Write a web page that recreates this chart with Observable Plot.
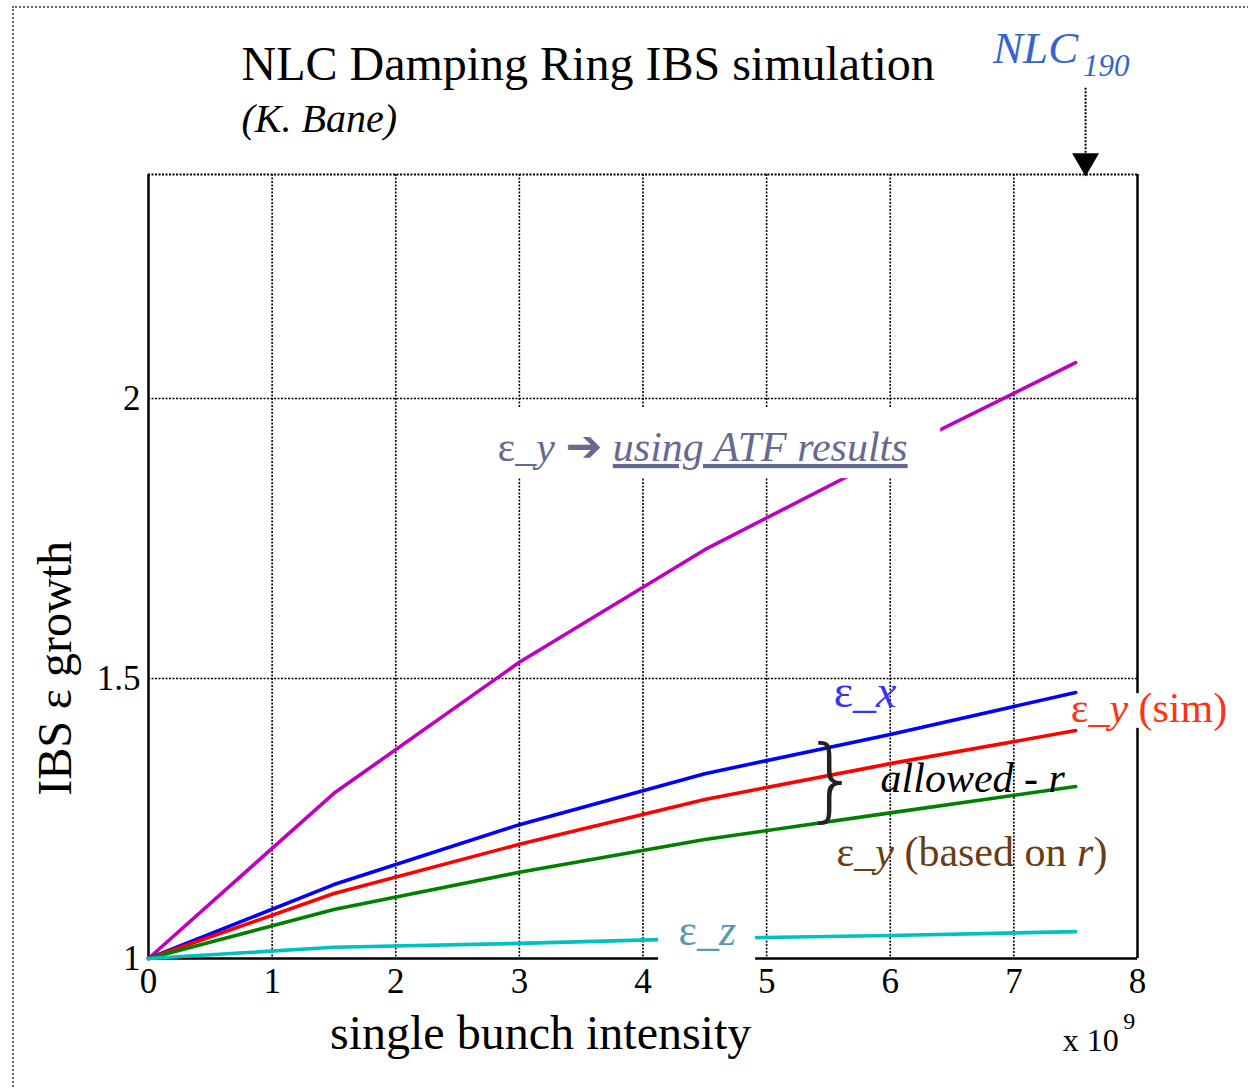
<!DOCTYPE html>
<html>
<head>
<meta charset="utf-8">
<script src="https://cdn.jsdelivr.net/npm/d3@7"></script>
<script src="https://cdn.jsdelivr.net/npm/@observablehq/plot@0.6"></script>
<style>
  html, body { margin: 0; padding: 0; background: #fff; overflow: hidden; }
  #wrap { position: relative; width: 1248px; height: 1088px; }
  #border { position: absolute; left: 12px; top: 6px; width: 1300px; height: 1200px;
            border: 2px dotted #666; box-sizing: border-box; pointer-events: none; }
  #chart { position: absolute; left: 0; top: 0; }
</style>
</head>
<body>
<div id="wrap"><div id="border"></div><div id="chart"></div></div>
<script>
// ---- data ----
const intensity = [0, 1.5, 3, 4.5, 6, 7.5];            // x 10^9
const epsYATF   = [1, 1.295, 1.529, 1.73, 1.90, 2.064];  // magenta
const epsX      = [1, 1.132, 1.239, 1.33, 1.40, 1.475];  // blue
const epsYSim   = [1, 1.116, 1.204, 1.284, 1.348, 1.407]; // red
const epsYr     = [1, 1.0875, 1.154, 1.2125, 1.26, 1.307]; // green
const epsZ      = [1, 1.02, 1.027, 1.036, 1.041, 1.048]; // cyan

const xTicks = [0, 1, 2, 3, 4, 5, 6, 7, 8];
const yTicks = [1, 1.5, 2];
const xGrid = [1, 2, 3, 4, 5, 6, 7];
const yGrid = [1.5, 2];

const seriesColors = ["#c000c0", "#0000ff", "#ff0000", "#008000", "#00c0c0"];
const seriesValues = [epsYATF, epsX, epsYSim, epsYr, epsZ];

// annotation labels
const labelTexts = ["ε_|i:y| |b:➔| |u:using ATF results", "ε_|i:x|", "ε_|i:y| (sim)", "allowed - r", "ε_|i:y| (based on |i:r|)", "ε_|i:z|"];
const labelX     = [2.824, 5.542, 7.460, 5.922, 5.566, 4.288];
const labelY     = [1.9125, 1.475, 1.446, 1.321, 1.189, 1.05];
const labelColor = ["#666a92", "#3434f4", "#ff3311", "#000000", "#6b3d14", "#5a9aae"];
const labelSize  = [42, 46, 42, 42, 42, 44];
const labelStyle = ["normal", "normal", "normal", "italic", "normal", "normal"];

// white masks behind labels
const maskX1 = [2.686, 4.126, 7.524];
const maskX2 = [6.408, 4.911, 8.8];
const maskY1 = [1.857, 0.99, 1.411];
const maskY2 = [1.984, 1.095, 1.473];

const lineData = (vals) => intensity.map((x, i) => ({x, y: vals[i]}));

const marks = [
  // grid
  Plot.ruleX(xGrid, {stroke: "#000", strokeWidth: 1.6, strokeDasharray: "2,1.5"}),
  Plot.ruleY(yGrid, {stroke: "#000", strokeWidth: 1.6, strokeDasharray: "2,1.5"}),
  Plot.ruleY([2.4], {stroke: "#000", strokeWidth: 2, strokeDasharray: "2,1.5"}),
  // frame
  Plot.ruleX([0, 8], {stroke: "#000", strokeWidth: 2.5}),
  Plot.ruleY([1], {stroke: "#000", strokeWidth: 2.5}),
  // series
  ...seriesValues.map((vals, i) => Plot.line(lineData(vals), {x: "x", y: "y", stroke: seriesColors[i], strokeWidth: 3.6})),
  // masks
  Plot.rect(maskX1.map((d, i) => i), {x1: i => maskX1[i], x2: i => maskX2[i], y1: i => maskY1[i], y2: i => maskY2[i], fill: "#fff"}),
  // axes
  Plot.axisX(xTicks, {tickSize: 0, tickPadding: 10, fontSize: 35, label: null, tickFormat: d => String(d)}),
  Plot.axisY(yTicks, {tickSize: 0, tickPadding: 8, fontSize: 35, label: null, tickFormat: d => String(d)}),
  // labels
  ...labelTexts.map((t, i) => Plot.text([t], {x: labelX[i], y: labelY[i], text: d => d, textAnchor: "start",
      fill: labelColor[i], fontSize: labelSize[i], fontStyle: labelStyle[i]})),
  // brace
  Plot.text(["}"], {x: 5.525, y: 1.316, text: d => d, fontSize: 90, fontFamily: "DejaVu Sans", fontWeight: 200, fill: "#222"}),
  // title
  Plot.text(["NLC Damping Ring IBS simulation"], {x: 0.752, y: 2.596, text: d => d, textAnchor: "start", fontSize: 48}),
  Plot.text(["(K. Bane)"], {x: 0.752, y: 2.498, text: d => d, textAnchor: "start", fontSize: 40, fontStyle: "italic"}),
  // NLC190
  Plot.text(["NLC"], {x: 6.832, y: 2.625, text: d => d, textAnchor: "start", fontSize: 45, fontStyle: "italic", fill: "#3366cc"}),
  Plot.text(["190"], {x: 7.56, y: 2.594, text: d => d, textAnchor: "start", fontSize: 31, fontStyle: "italic", fill: "#3366cc"}),
  Plot.ruleX([7.58], {y1: 2.554, y2: 2.43, stroke: "#000", strokeWidth: 2, strokeDasharray: "2,1.5"}),
  Plot.dot([7.58], {x: d => d, y: 2.424, symbol: "triangle", rotate: 180, r: 10, fill: "#000", stroke: "none"}),
  // axis titles
  Plot.text(["single bunch intensity"], {x: 3.172, y: 0.866, text: d => d, fontSize: 48}),
  Plot.text(["IBS ε growth"], {x: -0.752, y: 1.518, text: d => d, fontSize: 48, rotate: -90}),
  Plot.text(["x 10"], {x: 7.395, y: 0.853, text: d => d, textAnchor: "start", fontSize: 32}),
  Plot.text(["9"], {x: 7.885, y: 0.888, text: d => d, textAnchor: "start", fontSize: 24})
];

const chart = Plot.plot({
  width: 1248, height: 1088,
  marginLeft: 148, marginRight: 111, marginTop: 174, marginBottom: 130,
  x: {domain: [0, 8]},
  y: {domain: [1, 2.4]},
  style: {fontFamily: "'Liberation Serif', 'Times New Roman', serif", background: "transparent", color: "#000"},
  marks
});

// rich text: segments separated by "|" ; "i:" italic, "u:" italic underlined, "b:" arrow glyph
const ns = "http://www.w3.org/2000/svg";
chart.querySelectorAll("text").forEach(t => {
  const s = t.textContent;
  if (!s.includes("|")) return;
  t.textContent = "";
  s.split("|").forEach(seg => {
    const ts = document.createElementNS(ns, "tspan");
    let txt = seg;
    if (seg.startsWith("i:")) { ts.setAttribute("font-style", "italic"); txt = seg.slice(2); }
    else if (seg.startsWith("u:")) {
      ts.setAttribute("font-style", "italic");
      ts.setAttribute("style", "text-decoration: underline;");
      txt = seg.slice(2);
    }
    else if (seg.startsWith("b:")) { ts.setAttribute("font-family", "DejaVu Sans"); ts.setAttribute("font-size", "44"); txt = seg.slice(2); }
    ts.textContent = txt;
    t.appendChild(ts);
  });
});

document.getElementById("chart").appendChild(chart);
</script>
</body>
</html>
